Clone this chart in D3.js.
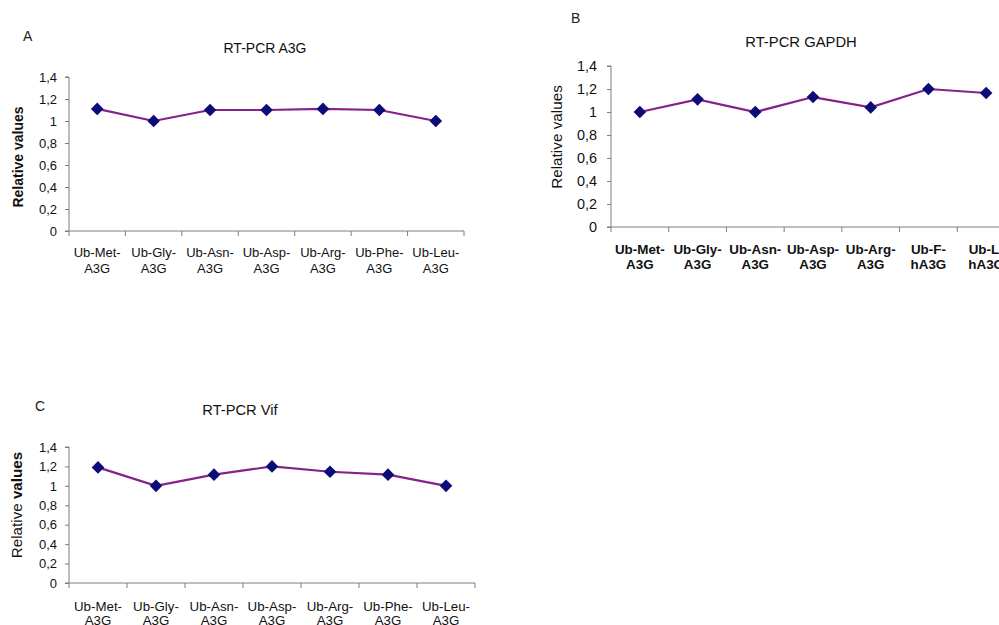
<!DOCTYPE html>
<html><head><meta charset="utf-8">
<script src="https://cdn.jsdelivr.net/npm/d3@7"></script>
<style>body{margin:0;background:#fff}svg{display:block;font-family:"Liberation Sans",Arial,sans-serif}</style>
</head><body>
<script>
const catsA = [["Ub-Met-","A3G"],["Ub-Gly-","A3G"],["Ub-Asn-","A3G"],["Ub-Asp-","A3G"],["Ub-Arg-","A3G"],["Ub-Phe-","A3G"],["Ub-Leu-","A3G"]];
const catsB = [["Ub-Met-","A3G"],["Ub-Gly-","A3G"],["Ub-Asn-","A3G"],["Ub-Asp-","A3G"],["Ub-Arg-","A3G"],["Ub-F-","hA3G"],["Ub-L-","hA3G"]];
const catsC = catsA;
const valuesA = [1.11, 1.00, 1.10, 1.10, 1.11, 1.10, 1.00];
const valuesB = [1.00, 1.11, 1.00, 1.13, 1.04, 1.20, 1.165];
const valuesC = [1.19, 1.00, 1.115, 1.20, 1.145, 1.115, 1.00];
const yTicks = [0, 0.2, 0.4, 0.6, 0.8, 1, 1.2, 1.4];
const titles = ["RT-PCR A3G", "RT-PCR GAPDH", "RT-PCR Vif"];
const letters = ["A", "B", "C"];

const svg = d3.select("body").append("svg").attr("width", 999).attr("height", 625);

function panel(o) {
  const g = svg.append("g");
  const x = d3.scaleBand().domain(d3.range(o.cats.length)).range([o.x0, o.x1]);
  const y = d3.scaleLinear().domain([0, 1.4]).range([o.y0, o.y1]);
  const axisCol = "#7f7f7f";
  // y axis
  const ya = g.append("g").attr("transform", `translate(${o.x0},0)`)
    .call(d3.axisLeft(y).tickValues(yTicks).tickSize(4).tickPadding(o.tickPad)
      .tickFormat(d => String(d).replace(".", ",")));
  ya.select(".domain").attr("stroke", axisCol).attr("d", `M-4,${o.y1}H0V${o.y0}`);
  ya.selectAll(".tick line").attr("stroke", axisCol);
  ya.selectAll(".tick text").attr("fill", "#111").style("font-size", o.tickFs + "px")
    .style("font-family", '"Liberation Sans",Arial,sans-serif');
  // x axis
  const xa = g.append("g").attr("transform", `translate(0,${o.y0})`);
  xa.append("line").attr("x1", o.x0 - 4).attr("x2", Math.min(o.x1, 1005)).attr("stroke", axisCol);
  const edges = d3.range(o.cats.length + 1).map(i => i < o.cats.length ? x(i) : o.x1);
  xa.selectAll("line.tk").data(edges).join("line").attr("class", "tk")
    .attr("x1", d => d).attr("x2", d => d).attr("y1", 0).attr("y2", 5).attr("stroke", axisCol);
  const lab = g.selectAll("text.xl").data(o.cats).join("text").attr("class", "xl")
    .attr("text-anchor", "middle").attr("fill", "#111")
    .style("font-size", o.xFs + "px").style("font-weight", o.xBold ? "bold" : "normal");
  lab.append("tspan").attr("x", (d, i) => x(i) + x.bandwidth() / 2).attr("y", o.xl1).text(d => d[0]);
  lab.append("tspan").attr("x", (d, i) => x(i) + x.bandwidth() / 2).attr("y", o.xl2).text(d => d[1]);
  // line
  const line = d3.line().x((d, i) => x(i) + x.bandwidth() / 2).y(d => y(d));
  g.append("path").datum(o.vals).attr("d", line).attr("fill", "none")
    .attr("stroke", "#86208a").attr("stroke-width", 2.2);
  g.selectAll("path.mk").data(o.vals).join("path").attr("class", "mk")
    .attr("d", d3.symbol().type(d3.symbolSquare).size(80))
    .attr("transform", (d, i) => `translate(${x(i) + x.bandwidth() / 2},${y(d)}) rotate(45)`)
    .attr("fill", "#0c0c78");
  // title
  g.append("text").attr("x", o.tx).attr("y", o.ty).attr("text-anchor", "middle")
    .style("font-size", o.tFs + "px").attr("fill", "#111").text(o.title);
  // letter
  g.append("text").attr("x", o.lx).attr("y", o.ly).style("font-size", "14px").attr("fill", "#222").text(o.letter);
  // y title
  const yt = g.append("text").attr("transform", `translate(${o.ytx},${o.yty}) rotate(-90)`)
    .attr("text-anchor", "middle").style("font-size", o.ytFs + "px").attr("fill", "#111");
  o.ytParts.forEach(p => yt.append("tspan").style("font-weight", p[1] ? "bold" : "normal").text(p[0]));
}

panel({cats: catsA, vals: valuesA, x0: 69, x1: 464, y0: 231, y1: 77, tickPad: 8, tickFs: 13, xFs: 13, xBold: false,
  xl1: 257, xl2: 273, title: titles[0], tx: 265, ty: 53, tFs: 14, letter: letters[0], lx: 23, ly: 41,
  ytx: 23, yty: 157, ytFs: 14, ytParts: [["Relative values", true]]});
panel({cats: catsB, vals: valuesB, x0: 611, x1: 1015, y0: 227, y1: 66, tickPad: 10, tickFs: 14.4, xFs: 13.4, xBold: true,
  xl1: 254, xl2: 269, title: titles[1], tx: 801, ty: 47, tFs: 14.8, letter: letters[1], lx: 571, ly: 23,
  ytx: 562, yty: 137, ytFs: 15.3, ytParts: [["Relative values", false]]});
panel({cats: catsC, vals: valuesC, x0: 69, x1: 475, y0: 583, y1: 447, tickPad: 8, tickFs: 13, xFs: 13.3, xBold: false,
  xl1: 611, xl2: 625, title: titles[2], tx: 240, ty: 415, tFs: 14.7, letter: letters[2], lx: 35, ly: 411,
  ytx: 22, yty: 505, ytFs: 15.2, ytParts: [["Relative ", false], ["values", true]]});
</script>
</body></html>
